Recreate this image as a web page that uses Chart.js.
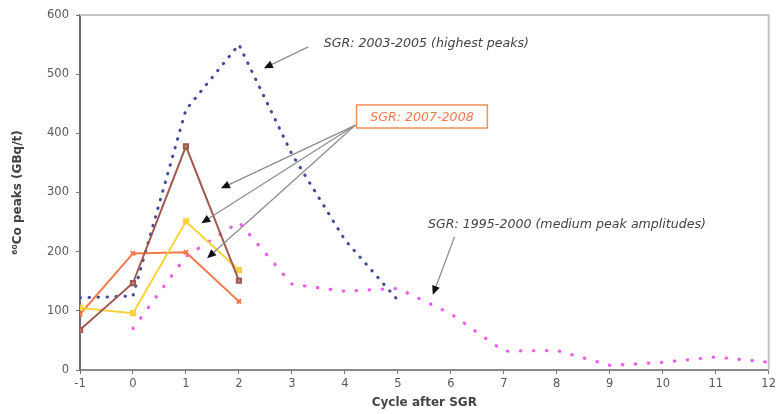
<!DOCTYPE html>
<html>
<head>
<meta charset="utf-8">
<script src="https://cdn.jsdelivr.net/npm/chart.js@4.4.1/dist/chart.umd.min.js"></script>
<style>
  html, body { margin: 0; padding: 0; background: #fff; }
  #wrap { width: 779px; height: 414px; }
</style>
</head>
<body>
<div id="wrap"><canvas id="peaks-chart"></canvas></div>
<script>
// cycles after SGR (x axis)
var xTicks = [-1, 0, 1, 2, 3, 4, 5, 6, 7, 8, 9, 10, 11, 12];
var yTicks = [0, 100, 200, 300, 400, 500, 600];

// SGR 2003-2005 (highest peaks)
var cyc0305 = [-1, 0, 1, 2, 3, 4, 5];
var peaks0305 = [122, 125, 440, 550, 365, 220, 118];

// SGR 1995-2000 (medium peak amplitudes)
var cyc9500 = [0, 1, 2, 3, 4, 5, 6, 7, 8, 9, 10, 11, 12];
var peaks9500 = [70, 192, 250, 145, 133, 138, 95, 32, 33, 8, 13, 22, 13];

// SGR 2007-2008, three units
var cyc0708 = [-1, 0, 1, 2];
var peaks0708a = [68, 147, 378, 151];
var peaks0708b = [105, 96, 251, 169];
var peaks0708c = [94, 197, 199, 116];

function toPoints(xs, ys) {
    return xs.map(function (x, i) { return { x: x, y: ys[i] }; });
}

// annotation texts and arrows, in data units
var notes = [
    { text: 'SGR: 2003-2005 (highest peaks)', x: 3.6, y: 552, color: '#444' },
    { text: 'SGR: 1995-2000 (medium peak amplitudes)', x: 5.57, y: 245, color: '#444' }
];
var arrows = [
    { from: [3.31, 546], to: [2.47, 510] },
    { from: [4.2, 414], to: [1.66, 307] },
    { from: [4.2, 414], to: [1.29, 248] },
    { from: [4.2, 414], to: [1.40, 189] },
    { from: [6.07, 225], to: [5.66, 127] }
];

var fontFamily = '"DejaVu Sans", "Liberation Sans", Arial, sans-serif';

var notesPlugin = {
    id: 'notes',
    beforeDatasetsDraw: function (chart) {
        var ctx = chart.ctx, a = chart.chartArea;
        ctx.save();
        ctx.strokeStyle = '#c4c4c4';
        ctx.lineWidth = 2;
        ctx.beginPath();
        ctx.moveTo(a.left, a.top);
        ctx.lineTo(a.right, a.top);
        ctx.lineTo(a.right, a.bottom);
        ctx.stroke();
        ctx.restore();
    },
    afterDatasetsDraw: function (chart) {
        var ctx = chart.ctx;
        var xs = chart.scales.x, ys = chart.scales.y;
        ctx.save();
        ctx.font = 'italic 12.6px ' + fontFamily;
        ctx.textBaseline = 'middle';
        notes.forEach(function (n) {
            ctx.fillStyle = n.color;
            ctx.fillText(n.text, xs.getPixelForValue(n.x), ys.getPixelForValue(n.y));
        });

        // boxed label
        var bx = xs.getPixelForValue(4.22), by = ys.getPixelForValue(448);
        var bw = xs.getPixelForValue(6.69) - bx, bh = ys.getPixelForValue(409) - by;
        ctx.fillStyle = '#fff';
        ctx.fillRect(bx, by, bw, bh);
        ctx.strokeStyle = '#f0905a';
        ctx.lineWidth = 1.5;
        ctx.strokeRect(bx, by, bw, bh);
        ctx.fillStyle = '#f07a50';
        ctx.textAlign = 'center';
        ctx.fillText('SGR: 2007-2008', bx + bw / 2, by + bh / 2 + 1);

        arrows.forEach(function (ar) {
            var x1 = xs.getPixelForValue(ar.from[0]), y1 = ys.getPixelForValue(ar.from[1]);
            var x2 = xs.getPixelForValue(ar.to[0]), y2 = ys.getPixelForValue(ar.to[1]);
            var ang = Math.atan2(y2 - y1, x2 - x1);
            ctx.strokeStyle = '#8e8e8e';
            ctx.lineWidth = 1.3;
            ctx.beginPath();
            ctx.moveTo(x1, y1);
            ctx.lineTo(x2 - 6 * Math.cos(ang), y2 - 6 * Math.sin(ang));
            ctx.stroke();
            ctx.fillStyle = '#111';
            ctx.beginPath();
            ctx.moveTo(x2, y2);
            ctx.lineTo(x2 - 9 * Math.cos(ang) + 4 * Math.sin(ang), y2 - 9 * Math.sin(ang) - 4 * Math.cos(ang));
            ctx.lineTo(x2 - 9 * Math.cos(ang) - 4 * Math.sin(ang), y2 - 9 * Math.sin(ang) + 4 * Math.cos(ang));
            ctx.closePath();
            ctx.fill();
        });
        ctx.restore();
    }
};

var tickFont = { family: fontFamily, size: 11.5 };
var titleFont = { family: fontFamily, size: 12, weight: 'bold' };

new Chart(document.getElementById('peaks-chart'), {
    type: 'line',
    data: {
        datasets: [{
            label: 'SGR 2003-2005',
            data: toPoints(cyc0305, peaks0305),
            borderColor: '#414c96',
            borderWidth: 3,
            borderDash: [0.5, 8.5],
            borderCapStyle: 'round',
            pointRadius: 0,
            order: 5
        }, {
            label: 'SGR 1995-2000',
            data: toPoints(cyc9500, peaks9500),
            borderColor: '#ee5cee',
            borderWidth: 3.2,
            borderDash: [0.5, 12.5],
            borderCapStyle: 'round',
            pointRadius: 0,
            order: 4
        }, {
            label: 'SGR 2007-2008 a',
            data: toPoints(cyc0708, peaks0708c),
            borderColor: '#f2784a',
            backgroundColor: '#f2784a',
            borderWidth: 2,
            pointStyle: 'crossRot',
            pointRadius: 3,
            order: 3
        }, {
            label: 'SGR 2007-2008 b',
            data: toPoints(cyc0708, peaks0708b),
            borderColor: '#f6d23e',
            backgroundColor: '#f6d23e',
            borderWidth: 2,
            pointStyle: 'rect',
            pointRadius: 3,
            order: 2
        }, {
            label: 'SGR 2007-2008 c',
            data: toPoints(cyc0708, peaks0708a),
            borderColor: '#9e5a50',
            backgroundColor: '#c08a86',
            borderWidth: 2,
            pointStyle: 'rect',
            pointRadius: 3,
            order: 1
        }]
    },
    options: {
        responsive: true,
        maintainAspectRatio: false,
        animation: false,
        layout: { padding: { top: 15, right: 6, left: 0, bottom: 0 } },
        plugins: {
            legend: { display: false },
            tooltip: { enabled: false }
        },
        scales: {
            x: {
                type: 'linear',
                min: -1,
                max: 12,
                afterBuildTicks: function (s) { s.ticks = xTicks.map(function (v) { return { value: v }; }); },
                afterFit: function (s) { s.height = 44; },
                grid: { display: true, drawOnChartArea: false, tickLength: 4, color: '#777' },
                border: { color: '#8a8a8a', width: 2 },
                ticks: { color: '#5a5a5a', font: tickFont, padding: 3, maxRotation: 0 },
                title: {
                    display: true,
                    text: 'Cycle after SGR',
                    color: '#444',
                    font: titleFont,
                    padding: { top: 0, bottom: 4 }
                }
            },
            y: {
                min: 0,
                max: 600,
                afterBuildTicks: function (s) { s.ticks = yTicks.map(function (v) { return { value: v }; }); },
                afterFit: function (s) { s.width = 80; },
                grid: { display: true, drawOnChartArea: false, tickLength: 4, color: '#777' },
                border: { color: '#6f6f6f', width: 2 },
                ticks: { color: '#5a5a5a', font: tickFont, padding: 7 },
                title: {
                    display: true,
                    text: '⁶⁰Co peaks (GBq/t)',
                    color: '#444',
                    font: titleFont,
                    padding: { top: 11, bottom: 0 }
                }
            }
        }
    },
    plugins: [notesPlugin]
});
</script>
</body>
</html>
